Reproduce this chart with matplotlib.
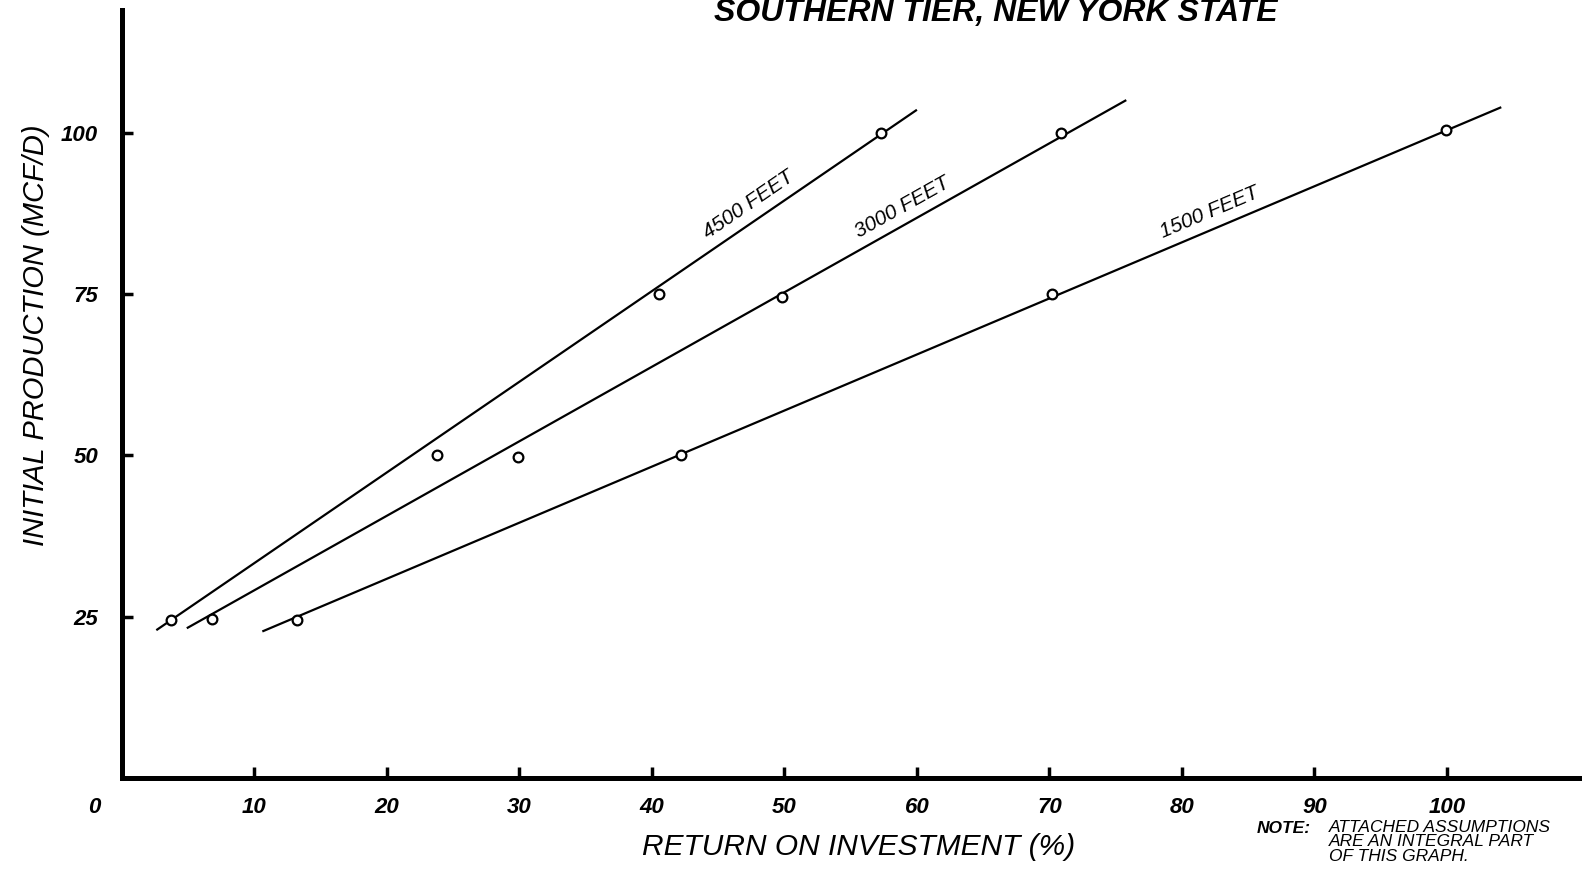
import matplotlib
matplotlib.use("Agg")
import matplotlib.pyplot as plt
import numpy as np

plt.rcParams['font.family'] = ['Liberation Sans', 'DejaVu Sans']

# ---- data ----
series_names = ["4500 FEET", "3000 FEET", "1500 FEET"]
production = [25, 50, 75, 100]                       # MCF/D
roi_4500 = [3.7, 23.8, 40.5, 57.3]                   # % return
roi_3000 = [6.8, 29.9, 49.8, 70.9]
roi_1500 = [13.2, 42.2, 70.2, 99.9]
prod_4500 = [24.5, 50.0, 75.0, 100.0]
prod_3000 = [24.7, 49.8, 74.6, 100.0]
prod_1500 = [24.5, 50.0, 75.0, 100.4]
# fitted line end points (x, y)
line_4500_x = [2.6, 60.0]
line_4500_y = [22.9, 103.6]
line_3000_x = [4.9, 75.8]
line_3000_y = [23.2, 105.1]
line_1500_x = [10.6, 104.1]
line_1500_y = [22.7, 104.0]
label_at_x = [48.0, 59.5, 82.6]
x_ticks = [10, 20, 30, 40, 50, 60, 70, 80, 90, 100]
y_ticks = [25, 50, 75, 100]

fig = plt.figure(figsize=(15.93, 8.73), dpi=100)
ax = fig.add_axes([0.0765, 0.109, 0.915, 0.879])
ax.set_xlim(0, 110)
ax.set_ylim(0, 119)

for s in ["top", "right"]:
    ax.spines[s].set_visible(False)
for s in ["left", "bottom"]:
    ax.spines[s].set_linewidth(3.6)
    ax.spines[s].set_color("black")

ax.set_xticks(x_ticks)
ax.set_yticks(y_ticks)
ax.tick_params(axis="both", direction="in", length=8, width=2.5, color="black")
ax.tick_params(axis="x", pad=14)
ax.tick_params(axis="y", pad=17)
for lab in ax.get_xticklabels() + ax.get_yticklabels():
    lab.set_fontsize(16)
    lab.set_fontstyle("italic")
    lab.set_fontweight("bold")

ax.annotate("0", (0, 0), xytext=(-20, -14), textcoords="offset points",
            fontsize=16, fontstyle="italic", fontweight="bold",
            ha="center", va="top", annotation_clip=False)

lines = [(line_4500_x, line_4500_y, roi_4500, prod_4500),
         (line_3000_x, line_3000_y, roi_3000, prod_3000),
         (line_1500_x, line_1500_y, roi_1500, prod_1500)]

for (lx, ly, px, py), name, lab_x in zip(lines, series_names, label_at_x):
    ax.plot(lx, ly, color="black", lw=1.6, solid_capstyle="butt")
    ax.plot(px, py, linestyle="none", marker="o", markersize=7,
            markerfacecolor="white", markeredgecolor="black", markeredgewidth=1.6)
    slope = (ly[1] - ly[0]) / (lx[1] - lx[0])
    lab_y = ly[0] + (lab_x - lx[0]) * slope
    p0 = ax.transData.transform((lx[0], ly[0]))
    p1 = ax.transData.transform((lx[1], ly[1]))
    ang = np.degrees(np.arctan2(p1[1] - p0[1], p1[0] - p0[0]))
    nx, ny = -np.sin(np.radians(ang)), np.cos(np.radians(ang))
    ax.annotate(name, (lab_x, lab_y), xytext=(nx * 12, ny * 12),
                textcoords="offset points", rotation=ang, rotation_mode="anchor",
                ha="center", va="center", fontsize=15, fontstyle="italic")

fig.text(0.539, 0.030, "RETURN ON INVESTMENT (%)", fontsize=21.5,
         fontstyle="italic", ha="center", va="center")
fig.text(0.0225, 0.616, "INITIAL PRODUCTION (MCF/D)", fontsize=21,
         fontstyle="italic", ha="center", va="center", rotation=90)

fig.text(0.625, 0.985, "SOUTHERN TIER, NEW YORK STATE", fontsize=23,
         fontweight="bold", fontstyle="italic", ha="center", va="center")

fig.text(0.789, 0.051, "NOTE:", fontsize=12.5, fontweight="bold", fontstyle="italic",
         ha="left", va="center")
fig.text(0.834, 0.061, "ATTACHED ASSUMPTIONS\nARE AN INTEGRAL PART\nOF THIS GRAPH.",
         fontsize=12.5, fontstyle="italic", ha="left", va="top", linespacing=0.95)

fig.savefig("out.png", dpi=100)
